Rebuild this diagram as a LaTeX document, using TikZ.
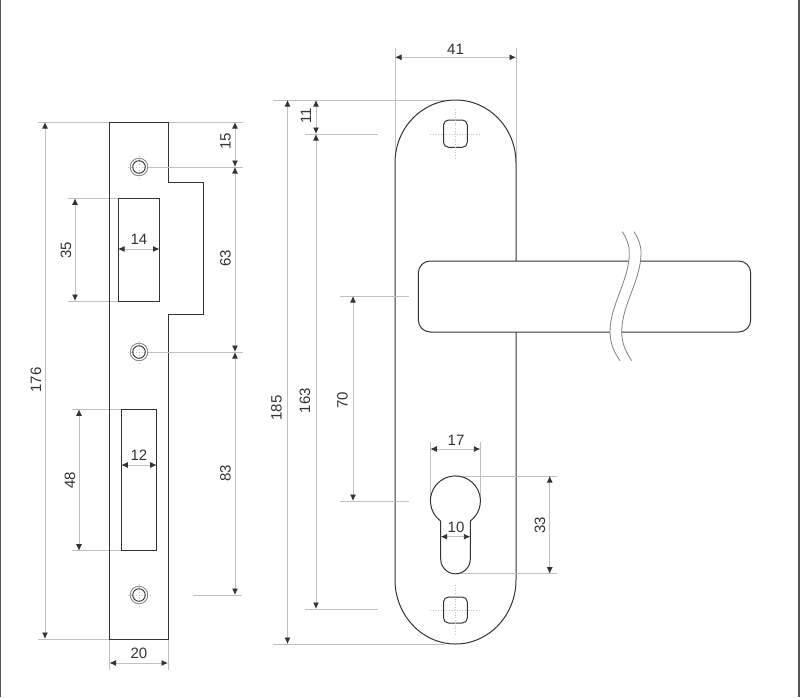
\documentclass[tikz,border=0pt]{standalone}
\usepackage{fontspec}
\setmainfont{Liberation Sans}
\usetikzlibrary{arrows.meta}
\definecolor{ink}{HTML}{333333}
\definecolor{dimgray}{HTML}{C0C0C0}
\definecolor{framegray}{HTML}{555555}
\tikzset{
  part/.style={draw=ink,line width=1pt,fill=white},
  extline/.style={draw=dimgray,line width=0.9pt},
  dimline/.style={draw=dimgray,line width=0.9pt,{Latex[length=6.5pt,width=6pt,color=ink]}-{Latex[length=6.5pt,width=6pt,color=ink]}},
  centermark/.style={draw=dimgray,line width=0.7pt,dotted},
  breakline/.style={draw=gray,line width=0.8pt},
  lbl/.style={font=\fontsize{15}{16}\selectfont,text=ink,inner sep=0pt},
  vlbl/.style={lbl,rotate=90}
}
\begin{document}
\begin{tikzpicture}[x=1pt,y=-1pt]
\useasboundingbox (0,0) rectangle (800,697);
\fill[white] (0,0) rectangle (800,697);
\draw[framegray,line width=1.6pt] (0.5,0) -- (0.5,697);
\draw[framegray,line width=1.6pt] (799,0) -- (799,697);
% strike plate extension lines
\draw[extline] (38,122) -- (243,122);
\draw[extline] (38,639) -- (110,639);
\draw[extline] (193,595) -- (242,595);
\draw[extline] (68,198.3) -- (118,198.3) (68,301) -- (118,301);
\draw[extline] (72,409.3) -- (121,409.3) (72,550.7) -- (121,550.7);
\draw[extline] (109.5,639) -- (109.5,670) (168,639) -- (168,670);
% strike plate
\draw[part,fill=none] (109.5,122) -- (168,122) -- (168,182.3) -- (203.5,182.3) -- (203.5,314.7) -- (168,314.7) -- (168,639) -- (109.5,639) -- cycle;
\draw[part,fill=none] (118,198.3) rectangle (159.5,301);
\draw[part,fill=none] (121.3,409.3) rectangle (156.7,550.7);
% holes
\foreach \cy in {167,352,595}{
  \draw[centermark] (128,\cy) -- (150,\cy) (139,\cy-11) -- (139,\cy+11);
  \draw[draw=gray,line width=0.8pt] (139,\cy) circle[radius=8.8];
  \draw[draw=ink,line width=0.9pt] (139,\cy) circle[radius=6.3];
}
\draw[extline] (148,167) -- (243,167) (148,352) -- (243,352);
% strike dimensions
\coordinate (a1) at (45,122); \coordinate (a2) at (45,639);
\draw[dimline] (a1) -- (a2);
\node[vlbl] (d176) at (36,380) {176};
\coordinate (b1) at (235,122); \coordinate (b2) at (235,167); \coordinate (b3) at (235,352); \coordinate (b4) at (235,595);
\draw[dimline] (b1) -- (b2);
\draw[dimline] (b2) -- (b3);
\draw[dimline] (b3) -- (b4);
\node[vlbl] (d15) at (225.5,141) {15};
\node[vlbl] (d63) at (225.5,258) {63};
\node[vlbl] (d83) at (225.5,473) {83};
\coordinate (c1) at (75,198.3); \coordinate (c2) at (75,301);
\draw[dimline] (c1) -- (c2);
\node[vlbl] (d35) at (66,250) {35};
\coordinate (e1) at (79,409.3); \coordinate (e2) at (79,550.7);
\draw[dimline] (e1) -- (e2);
\node[vlbl] (d48) at (70,480) {48};
\coordinate (f1) at (118,249); \coordinate (f2) at (159.5,249);
\draw[dimline] (f1) -- (f2);
\node[lbl] (d14) at (139,239.5) {14};
\coordinate (g1) at (121.3,465); \coordinate (g2) at (156.7,465);
\draw[dimline] (g1) -- (g2);
\node[lbl] (d12) at (139,455) {12};
\coordinate (h1) at (109.5,663); \coordinate (h2) at (168,663);
\draw[dimline] (h1) -- (h2);
\node[lbl] (d20) at (139,653.5) {20};
% handle extension lines
\draw[extline] (273,100) -- (445,100) (273,644) -- (445,644);
\draw[extline] (305,134) -- (378,134) (305,609) -- (378,609);
\draw[extline] (395,48) -- (395,163) (516,48) -- (516,163);
% back plate
\draw[part] (395,163) .. controls (395,128) and (422,100) .. (455.5,100) .. controls (489,100) and (516,128) .. (516,163) -- (516,580) .. controls (516,615) and (489,644) .. (455.5,644) .. controls (422,644) and (395,615) .. (395,580) -- cycle;
\draw[extline] (340,296) -- (409,296) (340,501) -- (409,501);
% lever
\draw[part,rounded corners=12pt] (418.3,261) rectangle (750.7,332);
% break in the lever
\fill[white] (629.3,253.3) .. controls (629.3,280) and (610,305) .. (610,331.7) -- (610,334) -- (621.7,334) -- (621.7,331.7) .. controls (621.7,305) and (641,280) .. (641,253.3) -- cycle;
\draw[breakline] (622.3,231.7) .. controls (627,239) and (629.3,245) .. (629.3,253.3) .. controls (629.3,280) and (610,305) .. (610,331.7) .. controls (610,343) and (614,352) .. (620,360.7);
\draw[breakline] (634,231.7) .. controls (638.7,239) and (641,245) .. (641,253.3) .. controls (641,280) and (621.7,305) .. (621.7,331.7) .. controls (621.7,343) and (625.7,352) .. (631.7,360.7);
% screw slots
\draw[draw=ink,line width=1pt,rounded corners=5pt] (443.5,120) rectangle (467.3,147.3);
\draw[draw=ink,line width=1pt,rounded corners=5pt] (443.5,597) rectangle (467.3,623);
\draw[centermark] (430,134) -- (480,134) (455.5,109) -- (455.5,158);
\draw[centermark] (430,610) -- (480,610) (455.5,585) -- (455.5,635);
% cylinder hole
\draw[extline,line width=0.7pt] (430.3,442) -- (430.3,500) (480.3,442) -- (480.3,500);
\draw[extline,line width=0.7pt] (455,476) -- (557,476) (456,573.7) -- (557,573.7);
\draw[part,fill=none] (440.7,521) -- (440.7,559) arc[start angle=180,end angle=0,radius=14.8] -- (470.3,521) arc[start angle=53.5,end angle=-233.5,radius=25] -- cycle;
% handle dimensions
\coordinate (i1) at (395,57.3); \coordinate (i2) at (516,57.3);
\draw[dimline] (i1) -- (i2);
\node[lbl] (d41) at (455.5,49) {41};
\coordinate (j1) at (287.5,100); \coordinate (j2) at (287.5,644);
\draw[dimline] (j1) -- (j2);
\node[vlbl] (d185) at (276.5,408) {185};
\coordinate (k1) at (316,100); \coordinate (k2) at (316,134); \coordinate (k3) at (316,609);
\draw[dimline] (k1) -- (k2);
\draw[dimline] (k2) -- (k3);
\node[vlbl] (d11) at (306,116) {11};
\node[vlbl] (d163) at (305,400.5) {163};
\coordinate (l1) at (353,296); \coordinate (l2) at (353,501);
\draw[dimline] (l1) -- (l2);
\node[vlbl] (d70) at (342.5,400) {70};
\coordinate (m1) at (430.3,449); \coordinate (m2) at (480.3,449);
\draw[dimline] (m1) -- (m2);
\node[lbl] (d17) at (456,440) {17};
\coordinate (n1) at (440.7,536.7); \coordinate (n2) at (470.3,536.7);
\draw[dimline] (n1) -- (n2);
\node[lbl] (d10) at (456,527) {10};
\coordinate (o1) at (549.7,476); \coordinate (o2) at (549.7,573.7);
\draw[dimline] (o1) -- (o2);
\node[vlbl] (d33) at (540,525) {33};
\end{tikzpicture}
\end{document}
